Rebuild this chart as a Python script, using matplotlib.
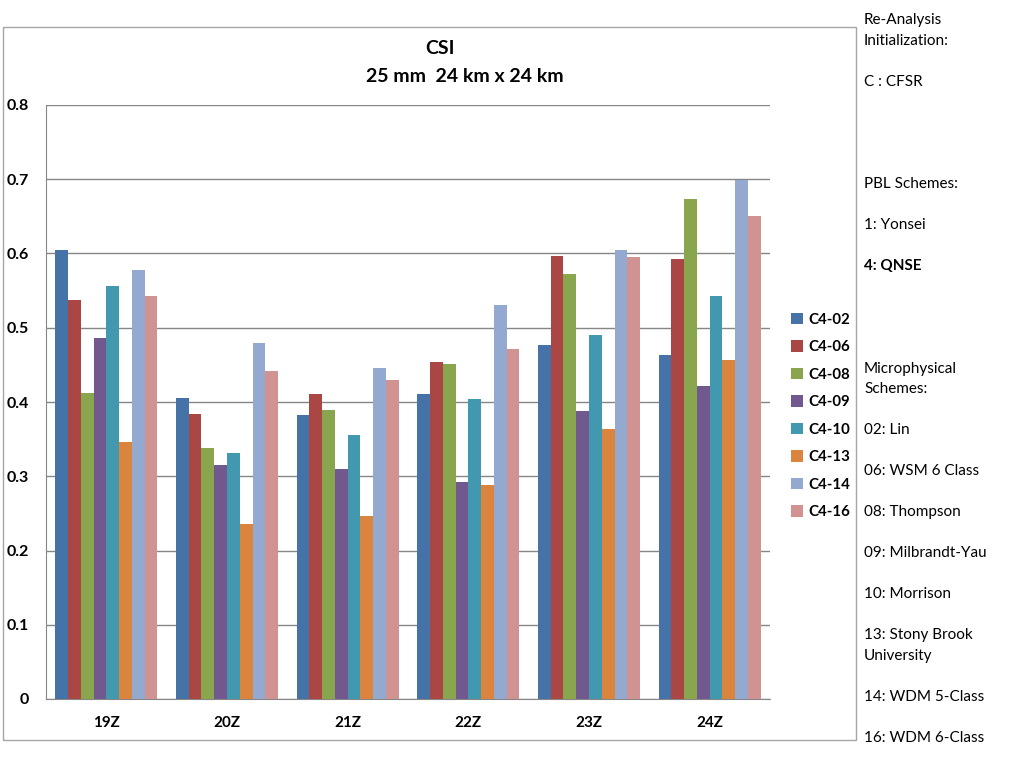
import matplotlib
matplotlib.use("Agg")
import matplotlib.pyplot as plt
import matplotlib.patches as mpatches
import numpy as np

plt.rcParams['font.family'] = ['Lato', 'DejaVu Sans']

# data
hours = ['19Z', '20Z', '21Z', '22Z', '23Z', '24Z']
runs = ['C4-02', 'C4-06', 'C4-08', 'C4-09', 'C4-10', 'C4-13', 'C4-14', 'C4-16']
c4_02 = [0.605, 0.405, 0.382, 0.411, 0.477, 0.463]
c4_06 = [0.537, 0.384, 0.411, 0.454, 0.597, 0.592]
c4_08 = [0.412, 0.338, 0.389, 0.451, 0.572, 0.674]
c4_09 = [0.486, 0.315, 0.310, 0.292, 0.388, 0.422]
c4_10 = [0.556, 0.331, 0.356, 0.404, 0.490, 0.543]
c4_13 = [0.346, 0.236, 0.247, 0.288, 0.364, 0.457]
c4_14 = [0.578, 0.479, 0.446, 0.531, 0.605, 0.699]
c4_16 = [0.543, 0.442, 0.430, 0.471, 0.595, 0.651]
series = [c4_02, c4_06, c4_08, c4_09, c4_10, c4_13, c4_14, c4_16]

colors = ['#4572A7', '#AA4643', '#89A54E', '#71588F',
          '#4198AF', '#DB843D', '#93A9CF', '#D19392']

side_lines = [
    (20, 'Re-Analysis', 'normal'),
    (41, 'Initialization:', 'normal'),
    (82, 'C : CFSR', 'normal'),
    (184, 'PBL Schemes:', 'normal'),
    (225, '1: Yonsei', 'normal'),
    (266, '4: QNSE', 'bold'),
    (369, 'Microphysical', 'normal'),
    (389, 'Schemes:', 'normal'),
    (430, '02: Lin', 'normal'),
    (471, '06: WSM 6 Class', 'normal'),
    (512, '08: Thompson', 'normal'),
    (553, '09: Milbrandt-Yau', 'normal'),
    (594, '10: Morrison', 'normal'),
    (635, '13: Stony Brook', 'normal'),
    (656, 'University', 'normal'),
    (697, '14: WDM 5-Class', 'normal'),
    (738, '16: WDM 6-Class', 'normal'),
]

W, H = 1024, 768
fig = plt.figure(figsize=(W / 100, H / 100), dpi=100)

# outer chart frame
fig.patches.append(mpatches.Rectangle((3 / W, 1 - 740 / H), 853 / W, 713 / H,
                                      transform=fig.transFigure, fill=False,
                                      edgecolor='#A6A6A6', linewidth=1))

ax = fig.add_axes([46 / W, 1 - 699 / H, 724 / W, 594 / H])

x = np.arange(len(hours))
bw = 0.1057
for i, (vals, name) in enumerate(zip(series, runs)):
    ax.bar(x + (i - 3.5) * bw, vals, bw, color=colors[i], label=name, zorder=3)

ax.set_xlim(-0.5, 5.5)
ax.set_ylim(0, 0.8)
ax.set_yticks(np.arange(0, 0.81, 0.1))
ax.set_yticklabels(['0', '0.1', '0.2', '0.3', '0.4', '0.5', '0.6', '0.7', '0.8'],
                   fontweight='bold', fontsize=11.5)
ax.set_xticks(x)
ax.set_xticklabels(hours, fontweight='bold', fontsize=11)
ax.tick_params(axis='y', length=0, pad=12)
ax.tick_params(axis='x', length=0, pad=12)
ax.yaxis.grid(True, color='#868686', linewidth=1, zorder=0)
ax.set_axisbelow(True)
for s in ['top', 'right']:
    ax.spines[s].set_visible(False)
ax.spines['left'].set_color('#868686')
ax.spines['bottom'].set_color('#868686')

ax.legend(loc='upper left', bbox_to_anchor=(777 / W, 1 - 299 / H),
          bbox_transform=fig.transFigure, frameon=False,
          handlelength=0.8, handleheight=0.8, handletextpad=0.4,
          labelspacing=0.9, prop={'weight': 'bold', 'size': 10.8})

fig.text(440 / W, 1 - 48 / H, 'CSI', ha='center', va='center',
         fontsize=14, fontweight='bold')
fig.text(465 / W, 1 - 76 / H, '25 mm  24 km x 24 km', ha='center', va='center',
         fontsize=14, fontweight='bold')

for y, txt, wt in side_lines:
    fig.text(864 / W, 1 - y / H, txt, ha='left', va='center',
             fontsize=11, fontweight=wt)

fig.savefig('out.png', dpi=100)
